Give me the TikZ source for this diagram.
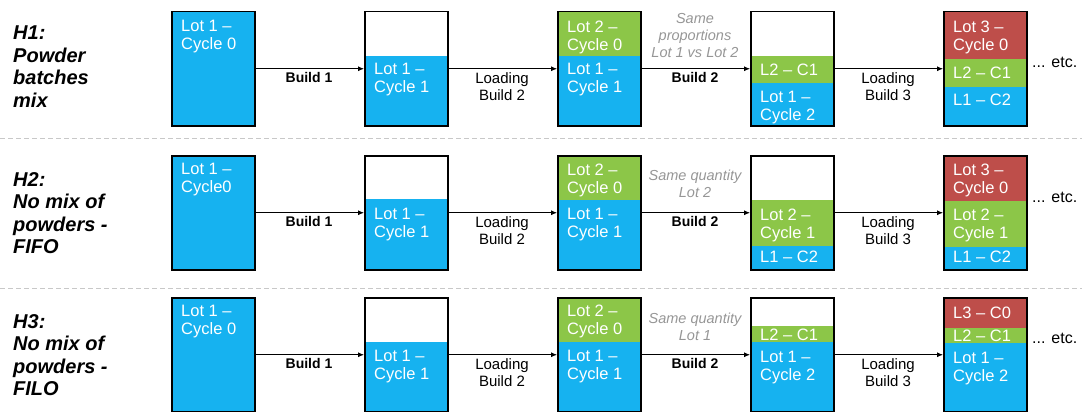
\documentclass[tikz,border=0pt]{standalone}
\usepackage{fontspec}
\setmainfont{Liberation Sans}
\usetikzlibrary{arrows.meta}

\definecolor{lotblue}{RGB}{22,178,240}
\definecolor{lotgreen}{RGB}{140,198,72}
\definecolor{lotred}{RGB}{190,78,74}
\definecolor{notegray}{RGB}{150,150,150}
\definecolor{sepgray}{RGB}{200,200,200}

\begin{document}
\begin{tikzpicture}[x=1pt,y=-1pt,
  bin/.style={draw=black, line width=1.5pt, minimum width=83pt, minimum height=114pt,
    inner sep=0pt, anchor=north west},
  inbox/.style={text=white, font=\fontsize{16.5}{17.5}\selectfont, align=left, inner sep=0pt},
  two/.style={inbox, anchor=north west},
  one/.style={inbox, anchor=west},
  flow/.style={draw=black, line width=0.8pt, -{Latex[length=6pt,width=5pt]}},
  stepname/.style={font=\bfseries\fontsize{14}{16}\selectfont, inner sep=0pt},
  loadname/.style={font=\fontsize{15}{17.5}\selectfont, align=center, inner sep=0pt, anchor=north},
  note/.style={font=\itshape\fontsize{14.5}{17}\selectfont, text=notegray, align=center, inner sep=0pt, anchor=north},
  heading/.style={font=\bfseries\itshape\fontsize{20}{22.5}\selectfont, align=left, inner sep=0pt, anchor=north west},
  more/.style={font=\fontsize{16}{18}\selectfont, inner sep=0pt, anchor=west},
  sep/.style={draw=sepgray, line width=1pt, dash pattern=on 5pt off 3pt}
]
\useasboundingbox (0,0) rectangle (1082,412);

% separators between the three hypotheses
\draw[sep] (0,138) -- (1082,138);
\draw[sep] (0,288) -- (1082,288);

% ---- powder layers, row H1
\fill[lotblue]  (171,11) rectangle (254,125);
\fill[lotblue]  (364,56) rectangle (447,125);
\fill[lotgreen] (557,11) rectangle (640,56);
\fill[lotblue]  (557,56) rectangle (640,125);
\fill[lotgreen] (750,56) rectangle (833,83);
\fill[lotblue]  (750,83) rectangle (833,125);
\fill[lotred]   (943,11) rectangle (1026,59);
\fill[lotgreen] (943,59) rectangle (1026,87);
\fill[lotblue]  (943,87) rectangle (1026,125);

% ---- powder layers, row H2
\fill[lotblue]  (171,155) rectangle (254,269);
\fill[lotblue]  (364,199) rectangle (447,269);
\fill[lotgreen] (557,155) rectangle (640,200);
\fill[lotblue]  (557,200) rectangle (640,269);
\fill[lotgreen] (750,200) rectangle (833,246);
\fill[lotblue]  (750,246) rectangle (833,269);
\fill[lotred]   (943,155) rectangle (1026,201);
\fill[lotgreen] (943,201) rectangle (1026,247);
\fill[lotblue]  (943,247) rectangle (1026,269);

% ---- powder layers, row H3
\fill[lotblue]  (171,297) rectangle (254,411);
\fill[lotblue]  (364,342) rectangle (447,411);
\fill[lotgreen] (557,297) rectangle (640,342);
\fill[lotblue]  (557,342) rectangle (640,411);
\fill[lotgreen] (750,326) rectangle (833,342);
\fill[lotblue]  (750,342) rectangle (833,411);
\fill[lotred]   (943,297) rectangle (1026,328);
\fill[lotgreen] (943,328) rectangle (1026,343);
\fill[lotblue]  (943,343) rectangle (1026,411);

% ---- bin outlines
\foreach \r/\t in {1/11,2/155,3/297}
  \foreach \c/\x in {1/171,2/364,3/557,4/750,5/943}
    \node[bin] (b\r\c) at (\x,\t) {};

% ---- connectors
\foreach \r in {1,2,3}
  \foreach \a/\b in {1/2,2/3,3/4,4/5}
    \draw[flow] (b\r\a) -- (b\r\b);

% ---- hypothesis headings
\node[heading] (h1) at (13,26)  {H1:\\Powder\\batches\\mix};
\node[heading] (h2) at (13,172) {H2:\\No mix of\\powders -\\FIFO};
\node[heading] (h3) at (13,314) {H3:\\No mix of\\powders -\\FILO};

% ---- layer labels, row H1
\node[two] (t11)  at (181,20) {Lot 1 –\\Cycle 0};
\node[two] (t12)  at (374,63) {Lot 1 –\\Cycle 1};
\node[two] (t13a) at (567,21) {Lot 2 –\\Cycle 0};
\node[two] (t13b) at (567,63) {Lot 1 –\\Cycle 1};
\node[one] (t14a) at (760,70)   {L2 – C1};
\node[two] (t14b) at (760,91) {Lot 1 –\\Cycle 2};
\node[two] (t15a) at (953,21) {Lot 3 –\\Cycle 0};
\node[one] (t15b) at (953,73)   {L2 – C1};
\node[one] (t15c) at (953,100)  {L1 – C2};

% ---- layer labels, row H2
\node[two] (t21)  at (181,163) {Lot 1 –\\Cycle0};
\node[two] (t22)  at (374,208) {Lot 1 –\\Cycle 1};
\node[two] (t23a) at (567,164) {Lot 2 –\\Cycle 0};
\node[two] (t23b) at (567,208) {Lot 1 –\\Cycle 1};
\node[two] (t24a) at (760,209) {Lot 2 –\\Cycle 1};
\node[one] (t24b) at (760,257)   {L1 – C2};
\node[two] (t25a) at (953,164) {Lot 3 –\\Cycle 0};
\node[two] (t25b) at (953,209) {Lot 2 –\\Cycle 1};
\node[one] (t25c) at (953,257)   {L1 – C2};

% ---- layer labels, row H3
\node[two] (t31)  at (181,305) {Lot 1 –\\Cycle 0};
\node[two] (t32)  at (374,350) {Lot 1 –\\Cycle 1};
\node[two] (t33a) at (567,305) {Lot 2 –\\Cycle 0};
\node[two] (t33b) at (567,350) {Lot 1 –\\Cycle 1};
\node[one] (t34a) at (760,334.5) {L2 – C1};
\node[two] (t34b) at (760,351) {Lot 1 –\\Cycle 2};
\node[one] (t35a) at (953,313)   {L3 – C0};
\node[one] (t35b) at (953,335.5) {L2 – C1};
\node[two] (t35c) at (953,352) {Lot 1 –\\Cycle 2};

% ---- step labels under the arrows
\foreach \r/\y in {1/68,2/212,3/354} {
  \node[stepname] (s\r a) at (309,\y+9.5) {Build 1};
  \node[loadname] (s\r b) at (502,\y+4) {Loading\\Build 2};
  \node[stepname] (s\r c) at (695,\y+9.5) {Build 2};
  \node[loadname] (s\r d) at (888,\y+4) {Loading\\Build 3};
}

% ---- notes above the second build
\node[note] (n1) at (695,13.5)  {Same\\proportions\\Lot 1 vs Lot 2};
\node[note] (n2) at (695,169.5) {Same quantity\\Lot 2};
\node[note] (n3) at (695,312.5) {Same quantity\\Lot 1};

% ---- continuation marks
\node[more] (m1) at (1032,62)  {... etc.};
\node[more] (m2) at (1032,197) {... etc.};
\node[more] (m3) at (1032,338) {... etc.};
\end{tikzpicture}
\end{document}
